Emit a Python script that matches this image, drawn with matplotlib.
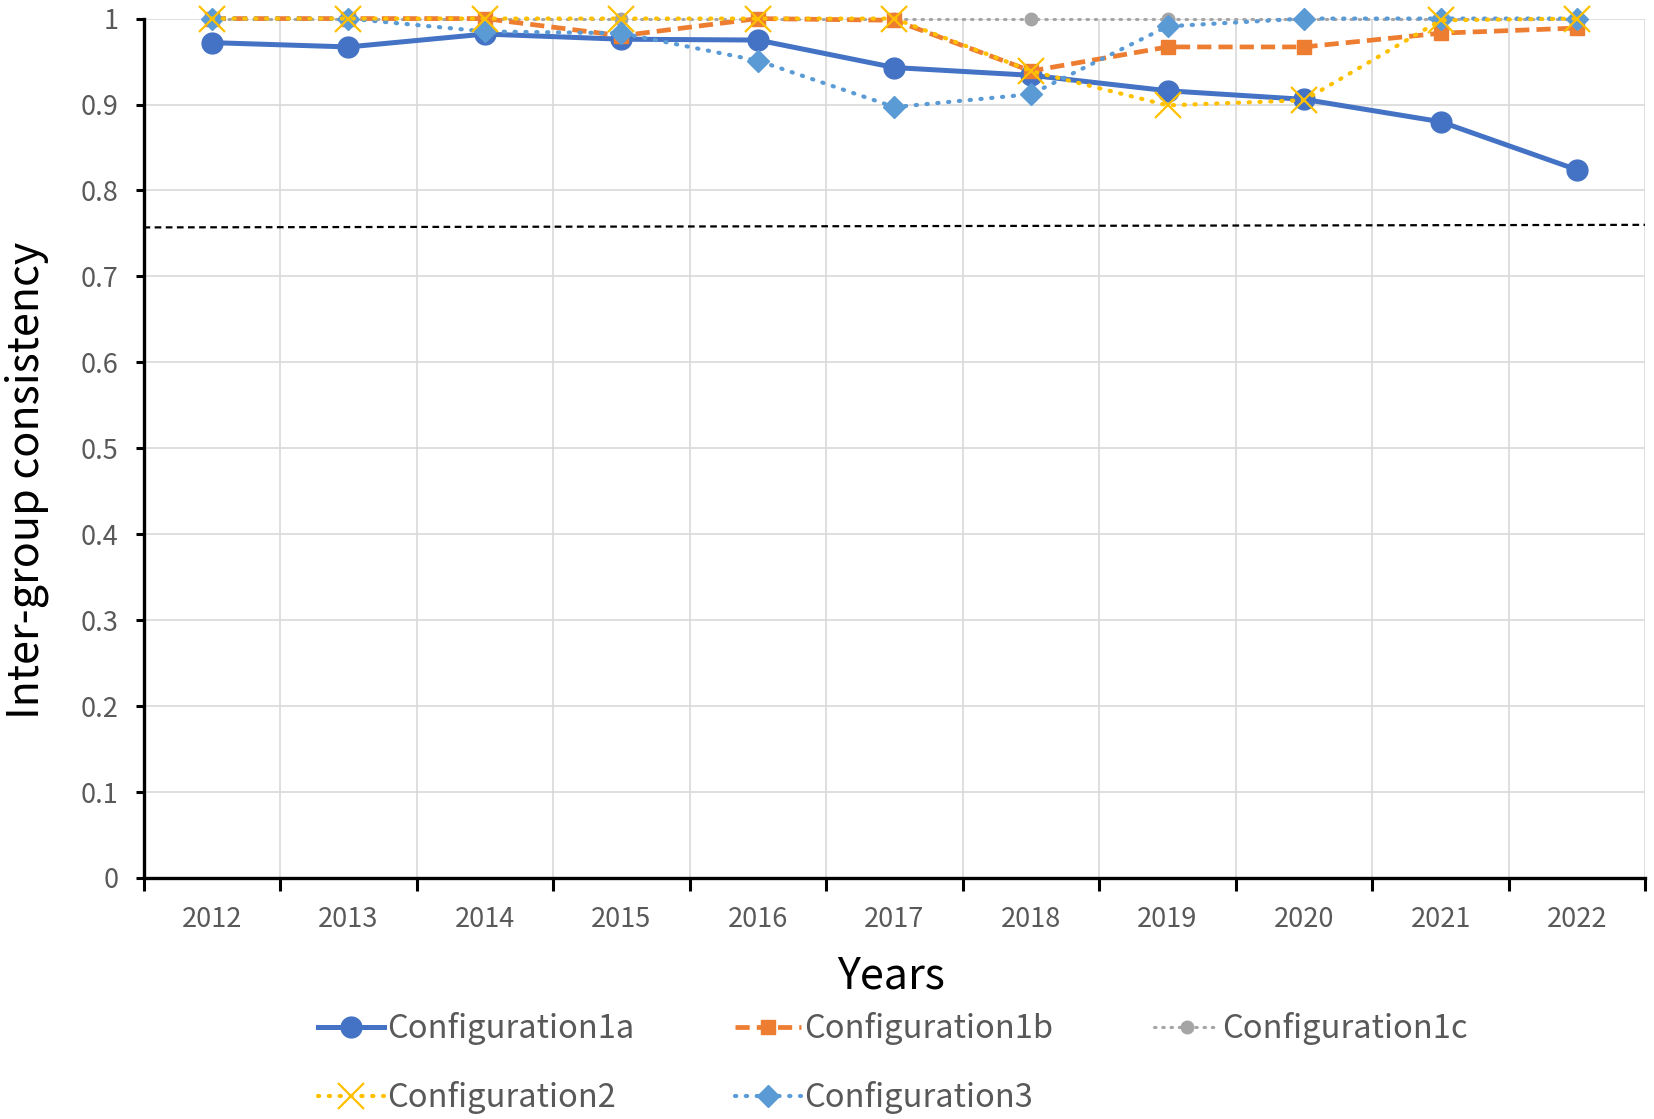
import matplotlib
matplotlib.use('Agg')
import matplotlib.pyplot as plt
import numpy as np

plt.rcParams['font.family'] = ['Noto Sans CJK SC', 'DejaVu Sans']

years = ['2012', '2013', '2014', '2015', '2016', '2017', '2018', '2019', '2020', '2021', '2022']
config1a = [0.972, 0.967, 0.982, 0.976, 0.975, 0.943, 0.934, 0.916, 0.906, 0.880, 0.824]
config1b = [1.0, 1.0, 1.0, 0.980, 1.0, 0.998, 0.939, 0.967, 0.967, 0.983, 0.989]
config1c = [1.0, 1.0, 1.0, 1.0, 1.0, 1.0, 1.0, 1.0, 1.0, 1.0, 1.0]
config2 = [1.0, 1.0, 1.0, 1.0, 1.0, 1.0, 0.939, 0.899, 0.905, 0.998, 1.0]
config3 = [1.0, 1.0, 0.985, 0.983, 0.951, 0.897, 0.912, 0.991, 1.0, 1.0, 1.0]
threshold_y = [0.757, 0.760]
ytick_vals = [0, 0.1, 0.2, 0.3, 0.4, 0.5, 0.6, 0.7, 0.8, 0.9, 1.0]
ytick_labels = ['0', '0.1', '0.2', '0.3', '0.4', '0.5', '0.6', '0.7', '0.8', '0.9', '1']

x = np.arange(len(years))

fig = plt.figure(figsize=(16.54, 11.19), dpi=100)
ax = fig.add_axes([0.0868, 0.2154, 0.908, 0.768])

# grid
for yv in ytick_vals[1:]:
    ax.axhline(yv, color='#D9D9D9', lw=1.2, zorder=0)
for xv in np.arange(-0.5, len(years)) + 1:
    ax.axvline(xv, color='#D9D9D9', lw=1.2, zorder=0)

# threshold line
ax.plot([x[0] - 0.5, x[-1] + 0.5], threshold_y, color='black', lw=1.6,
        linestyle=(0, (3, 2)), zorder=1)

l1, = ax.plot(x, config1a, color='#4472C4', lw=3.6, marker='o', ms=15,
              label='Configuration1a', clip_on=False, zorder=3)
l2, = ax.plot(x, config1b, color='#ED7D31', lw=3.4, marker='s', ms=10,
              linestyle=(0, (3, 1.5)), label='Configuration1b', clip_on=False, zorder=4)
l3, = ax.plot(x, config1c, color='#A5A5A5', lw=2.2, marker='o', ms=9,
              linestyle=(0, (0.5, 2.2)), dash_capstyle='round',
              label='Configuration1c', clip_on=False, zorder=2)
l4, = ax.plot(x, config2, color='#FFC000', lw=3.0, marker='x', ms=19, mew=1.6,
              linestyle=(0, (0.3, 2.3)), dash_capstyle='round',
              label='Configuration2', clip_on=False, zorder=5)
l5, = ax.plot(x, config3, color='#5B9BD5', lw=3.0, marker='D', ms=11,
              linestyle=(0, (0.3, 2.3)), dash_capstyle='round',
              label='Configuration3', clip_on=False, zorder=4)

ax.set_xlim(-0.5, len(years) - 0.5)
ax.set_ylim(0, 1)

ax.set_xticks(x)
ax.set_xticklabels(years)
ax.set_xticks(np.arange(-0.5, len(years)), minor=True)
ax.tick_params(axis='x', which='major', length=0, pad=20, labelsize=19.5, labelcolor='#595959')
ax.tick_params(axis='x', which='minor', length=9, width=2.2, direction='out', color='black')
ax.set_yticks(ytick_vals)
ax.set_yticklabels(ytick_labels)
ax.tick_params(axis='y', length=6, width=2.2, pad=12, labelsize=19.5, labelcolor='#595959')

for s in ['top', 'right']:
    ax.spines[s].set_visible(False)
for s in ['left', 'bottom']:
    ax.spines[s].set_linewidth(2.4)
    ax.spines[s].set_color('black')

fig.text(0.016, 0.571, 'Inter-group consistency', rotation=90, ha='center', va='center',
         fontsize=31, color='black')
fig.text(0.539, 0.127, 'Years', ha='center', va='center', fontsize=31, color='black')

handles = [l1, l4, l2, l5, l3]
fig.legend(handles, [h.get_label() for h in handles], ncol=3, loc='center',
           bbox_to_anchor=(0.54, 0.050), frameon=False, fontsize=23.5,
           labelcolor='#595959', handlelength=2.0, handletextpad=0.1,
           columnspacing=3.1, labelspacing=1.1)

fig.savefig('out.png', dpi=100)
